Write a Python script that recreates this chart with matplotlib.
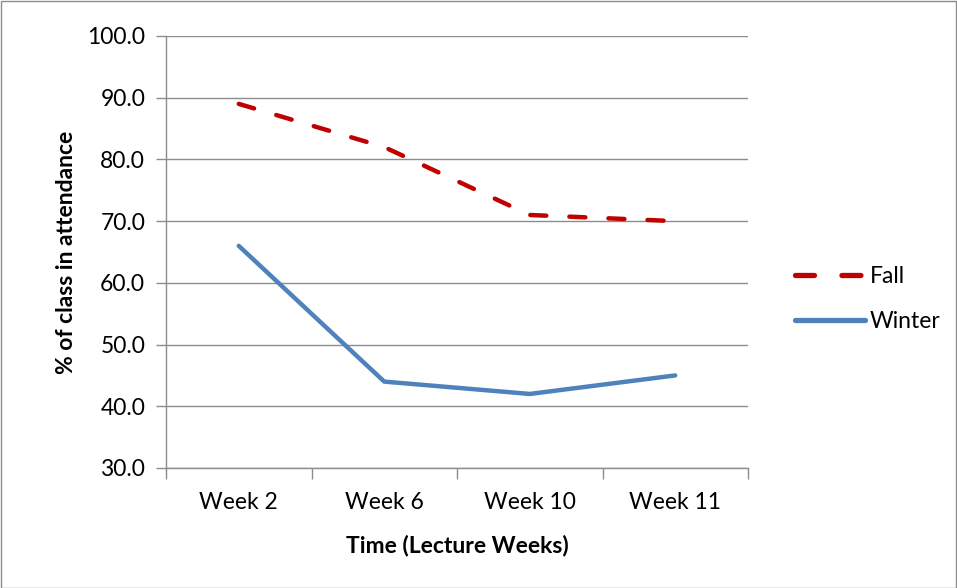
import matplotlib
matplotlib.use("Agg")
import matplotlib.pyplot as plt
from matplotlib.patches import Rectangle
from matplotlib.ticker import FixedLocator, FormatStrFormatter

categories = ["Week 2", "Week 6", "Week 10", "Week 11"]
fall = [89.0, 82.0, 71.0, 70.0]
winter = [66.0, 44.0, 42.0, 45.0]

plt.rcParams['font.family'] = ['Lato', 'DejaVu Sans']
FS = 16.5

W, H = 957, 588
fig = plt.figure(figsize=(W / 100, H / 100), dpi=100)
fig.patches.append(Rectangle((0.5 / W, 0.5 / H), 1 - 1.5 / W, 1 - 1.5 / H, transform=fig.transFigure,
                             fill=False, edgecolor="#8c8c8c", linewidth=1))

ax = fig.add_axes([166 / W, (H - 468) / H, 582 / W, 432 / H])
x = list(range(len(categories)))
ax.plot(x, fall, color="#C00000", lw=3.2, linestyle=(0, (3.6, 5.2)), dash_capstyle="round",
        solid_capstyle="round", label="Fall", zorder=3)
ax.plot(x, winter, color="#4F81BD", lw=3.2, solid_capstyle="round", label="Winter", zorder=3)

ax.set_xlim(-0.5, len(categories) - 0.5)
ax.set_ylim(30, 100)
ax.set_yticks([30, 40, 50, 60, 70, 80, 90, 100])
ax.yaxis.set_major_formatter(FormatStrFormatter("%.1f"))
ax.grid(axis="y", color="#8c8c8c", lw=1)
ax.set_axisbelow(True)

ax.set_xticks(x)
ax.set_xticklabels(categories)
ax.xaxis.set_minor_locator(FixedLocator([i - 0.5 for i in range(len(categories) + 1)]))
ax.tick_params(axis="x", which="major", length=0, pad=17, labelsize=FS)
ax.tick_params(axis="x", which="minor", length=8, color="#8c8c8c", width=1)
ax.tick_params(axis="y", length=7, color="#8c8c8c", width=1, pad=8, labelsize=FS)

for s in ["top", "right"]:
    ax.spines[s].set_visible(False)
for s in ["left", "bottom"]:
    ax.spines[s].set_color("#8c8c8c")
    ax.spines[s].set_linewidth(1)

ax.set_xlabel("Time (Lecture Weeks)", fontsize=FS, fontweight="bold", labelpad=16)
ax.set_ylabel("% of class in attendance", fontsize=FS, fontweight="bold", labelpad=7)

leg = ax.legend(loc="center left", bbox_to_anchor=(786 / W, (H - 299) / H), bbox_transform=fig.transFigure,
                frameon=False, fontsize=FS, handlelength=3.05, handletextpad=0.2, labelspacing=1.05,
                borderaxespad=0)
for line in leg.get_lines():
    line.set_linewidth(3.8)

fig.savefig("out.png", dpi=100)
